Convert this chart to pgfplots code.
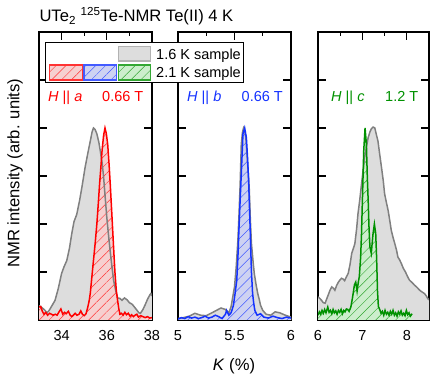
\documentclass[border=0pt]{standalone}
\usepackage{fontspec}
\setmainfont{Liberation Sans}
\usepackage{pgfplots}
\pgfplotsset{compat=1.18}
\usepackage{pgfplotstable}
\usetikzlibrary{patterns.meta}
\newcommand\fs{\fontsize{14.5bp}{17bp}\selectfont}
\newcommand\fl{\fontsize{16.6bp}{19bp}\selectfont}
\definecolor{gline}{RGB}{128,128,128}
\definecolor{gfill}{RGB}{221,221,221}
\definecolor{cred}{RGB}{255,0,0}
\definecolor{cblue}{RGB}{20,50,255}
\definecolor{cgreen}{RGB}{0,145,0}
\definecolor{redfill}{RGB}{246,208,208}
\definecolor{bluefill}{RGB}{206,210,242}
\definecolor{greenfill}{RGB}{204,238,204}

\pgfplotstableread{
K y
33.0 0.3
33.04 0.29
33.15 0.25
33.27 0.2
33.35 0.15
33.45 0.2
33.6 0.32
33.71 0.41
33.85 0.65
34.0 0.97
34.1 1.1
34.23 1.24
34.35 1.5
34.45 1.8
34.55 2.05
34.67 2.2
34.8 2.5
34.9 2.77
35.04 3.18
35.15 3.45
35.27 3.73
35.35 3.92
35.41 4.0
35.48 3.97
35.56 3.88
35.65 3.7
35.71 3.53
35.8 3.25
35.86 2.97
35.93 2.55
36.0 2.14
36.08 1.75
36.16 1.39
36.23 1.1
36.3 0.83
36.4 0.6
36.48 0.46
36.58 0.45
36.67 0.41
36.78 0.46
36.9 0.42
37.0 0.36
37.12 0.33
37.24 0.26
37.34 0.2
37.42 0.15
37.49 0.14
37.6 0.22
37.71 0.33
37.8 0.43
37.9 0.52
37.95 0.55
38.0 0.5
}\grayA
\pgfplotstableread{
K y
33.0 0.27
33.08 0.28
33.15 0.18
33.22 0.12
33.3 0.16
33.38 0.1
33.47 0.14
33.55 0.12
33.63 0.1
33.72 0.12
33.8 0.1
33.9 0.18
33.97 0.23
34.05 0.12
34.13 0.16
34.2 0.13
34.3 0.18
34.38 0.1
34.45 0.07
34.52 0.1
34.6 0.14
34.68 0.1
34.77 0.12
34.85 0.19
34.92 0.12
35.0 0.09
35.08 0.13
35.15 0.25
35.22 0.4
35.27 0.56
35.34 0.9
35.41 1.24
35.49 1.62
35.56 2.0
35.62 2.4
35.68 2.83
35.74 3.2
35.79 3.53
35.86 3.85
35.92 4.0
35.98 3.88
36.04 3.66
36.1 3.25
36.16 2.77
36.23 2.15
36.3 1.52
36.36 1.0
36.42 0.62
36.48 0.4
36.53 0.24
36.58 0.12
36.65 0.14
36.72 0.1
36.8 0.16
36.87 0.11
36.95 0.14
37.03 0.08
37.1 0.11
37.18 0.07
37.25 0.1
37.33 0.12
37.4 0.06
37.5 0.09
37.6 0.07
37.7 0.05
37.8 0.07
37.9 0.04
38.0 0.05
}\redA
\pgfplotstableread{
K y
5.0 0.03
5.05 0.05
5.1 0.08
5.15 0.14
5.2 0.1
5.25 0.09
5.3 0.15
5.34 0.2
5.38 0.25
5.42 0.22
5.45 0.15
5.47 0.28
5.5 0.69
5.515 1.1
5.53 1.66
5.54 2.2
5.55 2.83
5.56 3.66
5.57 3.9
5.58 4.0
5.59 3.95
5.60 3.8
5.615 3.3
5.63 2.77
5.64 2.1
5.65 1.59
5.665 1.2
5.675 0.97
5.69 0.75
5.705 0.56
5.72 0.42
5.73 0.31
5.75 0.2
5.78 0.12
5.82 0.1
5.86 0.17
5.9 0.15
5.95 0.1
6.0 0.06
}\grayB
\pgfplotstableread{
K y
5.0 0.02
5.03 0.05
5.06 0.03
5.09 0.07
5.12 0.04
5.15 0.06
5.18 0.03
5.21 0.05
5.24 0.08
5.27 0.04
5.3 0.06
5.33 0.1
5.36 0.07
5.39 0.03
5.42 0.12
5.43 0.2
5.45 0.1
5.47 0.15
5.49 0.3
5.505 0.55
5.52 0.83
5.53 1.3
5.54 1.94
5.55 2.5
5.56 3.04
5.575 3.88
5.59 4.0
5.605 3.8
5.615 3.4
5.625 2.9
5.64 1.8
5.65 1.0
5.66 0.56
5.67 0.35
5.68 0.2
5.7 0.1
5.73 0.13
5.76 0.06
5.8 0.04
5.84 0.08
5.88 0.05
5.92 0.03
5.96 0.06
6.0 0.04
}\blueB
\pgfplotstableread{
K y
6.0 0.48
6.04 0.45
6.08 0.41
6.12 0.36
6.16 0.35
6.2 0.45
6.23 0.52
6.27 0.62
6.31 0.69
6.35 0.66
6.38 0.62
6.42 0.72
6.46 0.79
6.5 0.84
6.53 0.87
6.57 0.85
6.6 0.82
6.64 0.9
6.68 0.97
6.72 1.15
6.76 1.39
6.8 1.5
6.83 1.59
6.87 1.9
6.9 2.21
6.94 2.5
6.98 2.83
7.02 3.15
7.05 3.39
7.09 3.6
7.13 3.8
7.17 3.92
7.2 3.98
7.24 4.02
7.28 4.0
7.31 3.88
7.35 3.73
7.39 3.45
7.43 3.18
7.47 2.9
7.5 2.63
7.54 2.45
7.58 2.28
7.62 2.05
7.65 1.87
7.69 1.72
7.73 1.59
7.77 1.45
7.8 1.31
7.84 1.25
7.88 1.17
7.92 1.08
7.97 1.0
8.02 0.9
8.06 0.83
8.12 0.78
8.17 0.73
8.23 0.68
8.29 0.62
8.35 0.58
8.4 0.55
8.44 0.5
8.47 0.45
8.5 0.42
}\grayC
\pgfplotstableread{
K y
6.0 0.1
6.03 0.17
6.06 0.12
6.09 0.2
6.12 0.14
6.15 0.22
6.18 0.15
6.22 0.27
6.25 0.16
6.28 0.2
6.31 0.13
6.34 0.22
6.37 0.15
6.4 0.19
6.43 0.12
6.46 0.2
6.49 0.16
6.52 0.22
6.55 0.13
6.58 0.2
6.61 0.17
6.64 0.23
6.67 0.22
6.7 0.18
6.74 0.27
6.78 0.48
6.82 0.73
6.85 0.79
6.88 0.6
6.91 0.8
6.93 0.9
6.96 1.3
6.98 1.8
7.0 2.49
7.03 3.53
7.06 4.0
7.09 3.66
7.11 3.0
7.13 2.49
7.15 1.9
7.17 1.52
7.2 1.39
7.22 1.6
7.24 1.8
7.27 2.0
7.3 1.8
7.32 1.3
7.34 0.6
7.36 0.28
7.39 0.22
7.42 0.14
7.45 0.18
7.48 0.1
7.51 0.2
7.54 0.12
7.57 0.16
7.6 0.1
7.63 0.18
7.66 0.12
7.69 0.2
7.72 0.1
7.75 0.15
7.78 0.08
7.81 0.17
7.84 0.12
7.87 0.19
7.9 0.1
7.93 0.14
7.96 0.09
7.99 0.2
8.02 0.11
8.05 0.15
8.08 0.08
8.12 0.13
}\greenC

\tikzset{
  hatch/.style={postaction={pattern={Lines[angle=45,distance=7bp,line width=0.45bp]}, pattern color=#1}},
}
\pgfplotsset{
  panel/.style={scale only axis, anchor=south west, height=288bp,
    ymin=0, ymax=6, ytick={0,...,6}, yticklabels={},
    tick align=inside, major tick length=8bp, minor tick length=4bp,
    axis line style={line width=1.1bp},
    every tick/.style={black, line width=1.1bp},
    xticklabel style={font=\fs, yshift=-7bp},
    /pgf/number format/assume math mode=true},
  gfillst/.style={fill=gfill, draw=none, forget plot},
  glinest/.style={gline, line width=1.5bp, forget plot},
}

\begin{document}
\begin{tikzpicture}[font=\fs]
\useasboundingbox (0,0) rectangle (436bp,379bp);

\begin{axis}[panel, at={(39bp,59bp)}, width=113bp, xmin=33, xmax=38,
  xtick={34,36,38}, minor xtick={35,37}]
\addplot[gfillst] table[x=K,y=y]{\grayA} \closedcycle;
\addplot[fill=redfill, draw=none, hatch=cred!80, forget plot] table[x=K,y=y]{\redA} \closedcycle;
\addplot[glinest] table[x=K,y=y]{\grayA};
\addplot[cred, line width=1.5bp] table[x=K,y=y]{\redA};
\end{axis}

\begin{axis}[panel, at={(178bp,59bp)}, width=113bp, xmin=5, xmax=6,
  xtick={5,5.5,6}, minor xtick={5.25,5.75}]
\addplot[gfillst] table[x=K,y=y]{\grayB} \closedcycle;
\addplot[fill=bluefill, draw=none, hatch=cblue!80, forget plot] table[x=K,y=y]{\blueB} \closedcycle;
\addplot[glinest] table[x=K,y=y]{\grayB};
\addplot[cblue, line width=1.5bp] table[x=K,y=y]{\blueB};
\end{axis}

\begin{axis}[panel, at={(318bp,59bp)}, width=111bp, xmin=6, xmax=8.5,
  xtick={6,7,8}, minor xtick={6.5,7.5}]
\addplot[gfillst] table[x=K,y=y]{\grayC} \closedcycle;
\addplot[fill=greenfill, draw=none, hatch=cgreen!80, forget plot] table[x=K,y=y]{\greenC} \closedcycle;
\addplot[glinest] table[x=K,y=y]{\grayC};
\addplot[cgreen, line width=1.5bp] table[x=K,y=y]{\greenC};
\end{axis}

% title and labels
\node[anchor=base west, inner sep=0, font=\fl] at (39.3bp,357bp) {UTe\textsubscript{2} \textsuperscript{125}Te-NMR Te(II) 4 K};
\node[rotate=90, anchor=center, font=\fl] at (15bp,206bp) {NMR intensity (arb. units)};
\node[anchor=base, inner sep=0, font=\fl] at (234bp,9bp) {\textit{K} (\%)};

% field annotations
\node[anchor=base west, inner sep=0, text=cred] at (48bp,277bp) {\textit{H} || \textit{a}};
\node[anchor=base west, inner sep=0, text=cred] at (102bp,277bp) {0.66 T};
\node[anchor=base west, inner sep=0, text=cblue] at (187bp,277bp) {\textit{H} || \textit{b}};
\node[anchor=base west, inner sep=0, text=cblue] at (241.5bp,277bp) {0.66 T};
\node[anchor=base west, inner sep=0, text=cgreen] at (331bp,277bp) {\textit{H} || \textit{c}};
\node[anchor=base west, inner sep=0, text=cgreen] at (385bp,277bp) {1.2 T};

% legend
\draw[fill=white, line width=0.9bp] (45.7bp,296.3bp) rectangle (243.3bp,336.3bp);
\draw[fill=gfill, draw=gray!60, line width=1.1bp] (118.3bp,318bp) rectangle (150.7bp,332.3bp);
\draw[fill=redfill, draw=cred!80, line width=1.1bp, hatch=cred!80] (49.3bp,299bp) rectangle (82.3bp,314bp);
\draw[fill=bluefill, draw=cblue!80, line width=1.1bp, hatch=cblue!80] (84bp,299bp) rectangle (116.7bp,314bp);
\draw[fill=greenfill, draw=cgreen!80, line width=1.1bp, hatch=cgreen!80] (118.3bp,299bp) rectangle (150.7bp,314bp);
\node[anchor=base west, inner sep=0] at (156bp,319.5bp) {1.6 K sample};
\node[anchor=base west, inner sep=0] at (156bp,301bp) {2.1 K sample};
\end{tikzpicture}
\end{document}
